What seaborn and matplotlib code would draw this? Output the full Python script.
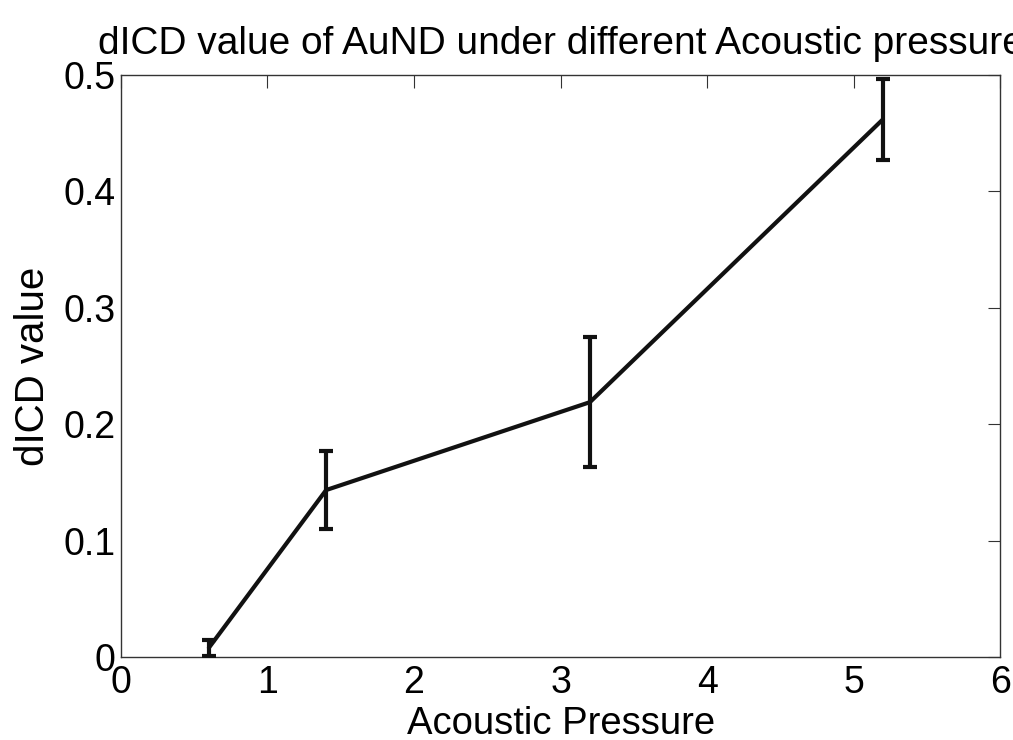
import matplotlib
matplotlib.use("Agg")
import matplotlib.pyplot as plt
import seaborn as sns
import pandas as pd

# Measured dICD values at each acoustic pressure, with error half-widths
pressure = [0.6, 1.4, 3.2, 5.2]
dicd = [0.008, 0.1435, 0.219, 0.462]
err = [0.007, 0.0335, 0.056, 0.035]

x_ticks = [0, 1, 2, 3, 4, 5, 6]
y_ticks = [0, 0.1, 0.2, 0.3, 0.4, 0.5]
y_tick_labels = ["0", "0.1", "0.2", "0.3", "0.4", "0.5"]

sns.set_theme(style="white")
plt.rcParams["font.family"] = ["Liberation Sans", "DejaVu Sans"]
plt.rcParams["text.color"] = "black"
plt.rcParams["axes.labelcolor"] = "black"

df = pd.DataFrame({"Acoustic Pressure": pressure, "dICD value": dicd})

fig = plt.figure(figsize=(10.13, 7.4), dpi=100)
ax = fig.add_axes([0.1194, 0.112, 0.868, 0.7866])

sns.lineplot(data=df, x="Acoustic Pressure", y="dICD value", ax=ax,
             color="#111111", linewidth=3.0, zorder=3)
ax.errorbar(pressure, dicd, yerr=err, fmt="none", ecolor="#111111",
            elinewidth=3.0, capsize=5, capthick=3.0, zorder=3)

ax.set_xlim(0, 6)
ax.set_ylim(0, 0.5)
ax.set_xticks(x_ticks)
ax.set_xticklabels([str(t) for t in x_ticks])
ax.set_yticks(y_ticks)
ax.set_yticklabels(y_tick_labels)

ax.tick_params(axis="both", direction="in", length=9, width=0.8,
               top=True, right=True, labelsize=27, colors="#333333",
               labelcolor="black")
ax.tick_params(axis="y", pad=4)
ax.tick_params(axis="x", pad=6)
for s in ax.spines.values():
    s.set_color("#333333")
    s.set_linewidth(1.0)

ax.set_xlabel("Acoustic Pressure", fontsize=27.5, labelpad=3, color="black")
ax.set_ylabel("dICD value", fontsize=29, labelpad=8, color="black")
ax.set_title("dICD value of AuND under different Acoustic pressure",
             fontsize=28, pad=15, color="black")

fig.savefig("out.png", dpi=100)
